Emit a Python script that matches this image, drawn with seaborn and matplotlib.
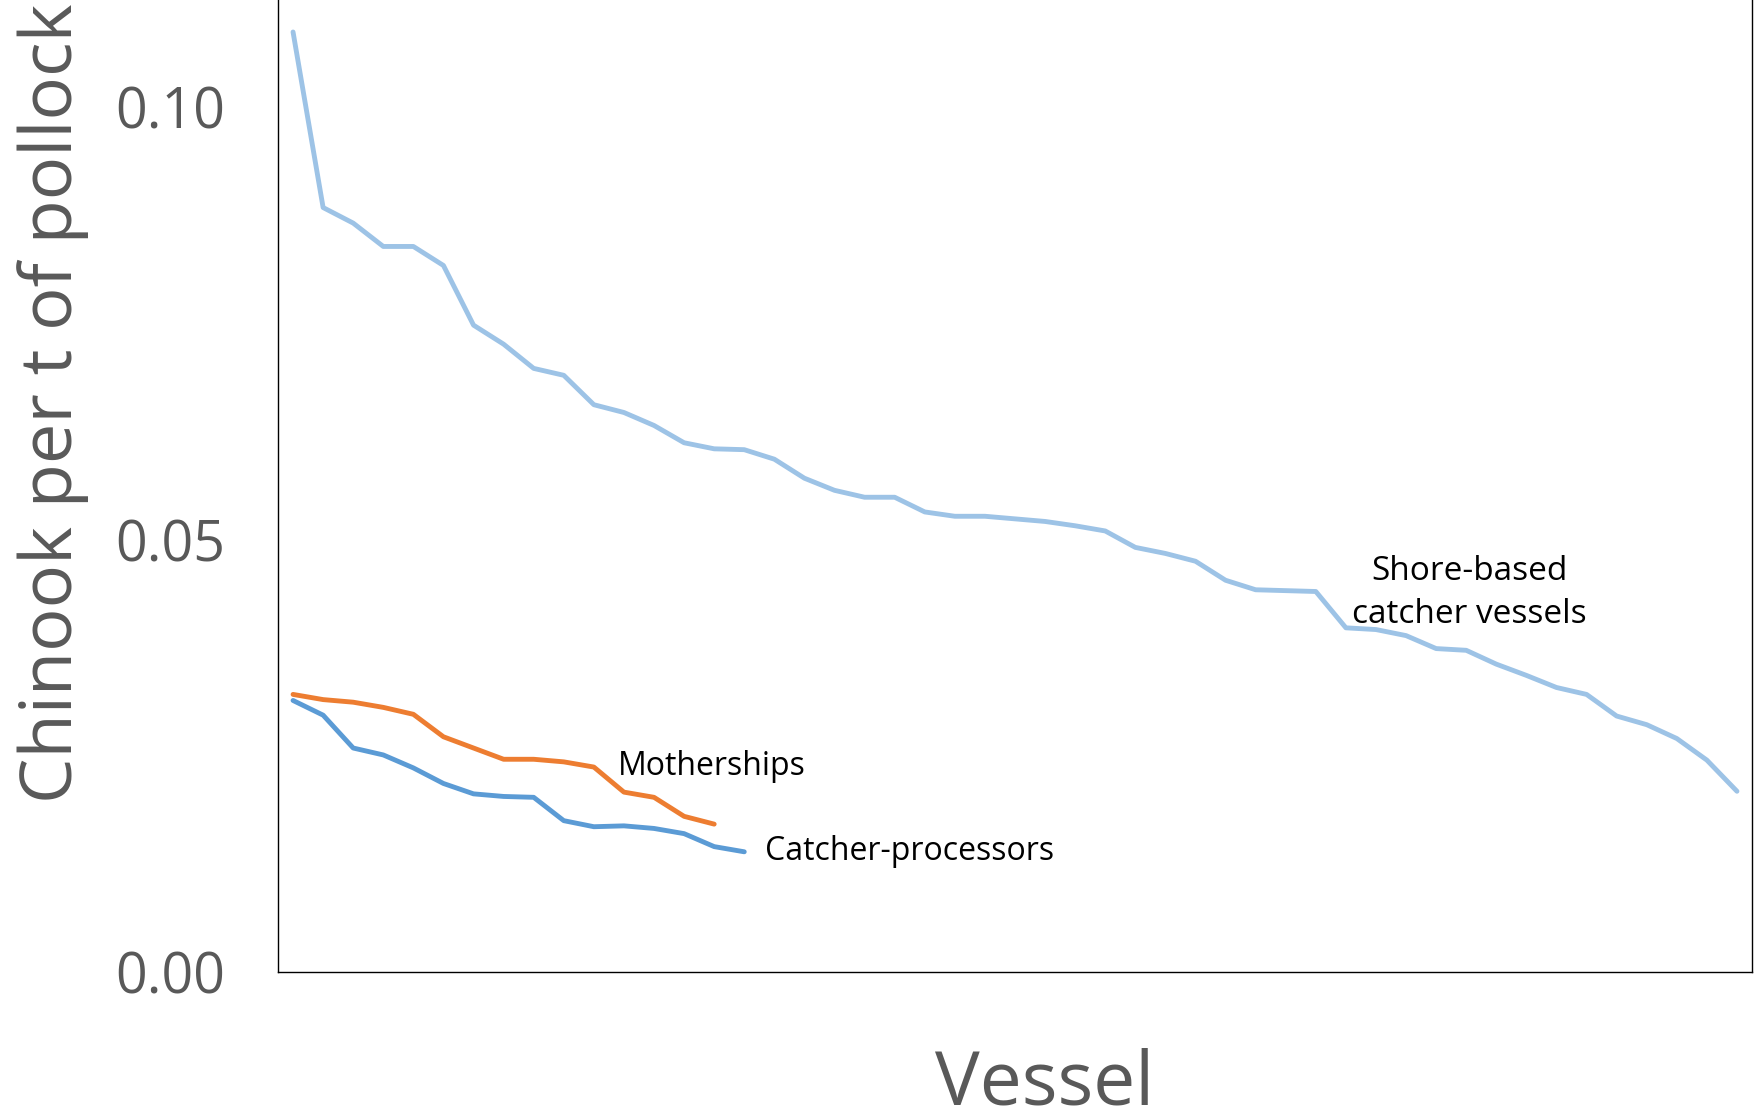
import numpy as np
import pandas as pd
import matplotlib
matplotlib.use("Agg")
import matplotlib.pyplot as plt
import seaborn as sns

# Chinook bycatch rate per vessel, sorted high to low, one list per sector
shore_based = [0.1087, 0.0884, 0.0866, 0.0839, 0.0839, 0.0817, 0.0748, 0.0726,
               0.0698, 0.0690, 0.0656, 0.0647, 0.0632, 0.0612, 0.0605, 0.0604,
               0.0593, 0.0571, 0.0557, 0.0549, 0.0549, 0.0532, 0.0527, 0.0527,
               0.0524, 0.0521, 0.0516, 0.0510, 0.0491, 0.0484, 0.0475, 0.0453,
               0.0442, 0.0441, 0.0440, 0.0398, 0.0396, 0.0389, 0.0374, 0.0372,
               0.0356, 0.0343, 0.0329, 0.0321, 0.0296, 0.0286, 0.0270, 0.0245,
               0.0209]
motherships = [0.0321, 0.0315, 0.0312, 0.0306, 0.0298, 0.0272, 0.0259, 0.0246,
               0.0246, 0.0243, 0.0237, 0.0208, 0.0202, 0.0180, 0.0171]
catcher_processors = [0.0314, 0.0297, 0.0259, 0.0251, 0.0236, 0.0218, 0.0206,
                      0.0203, 0.0202, 0.0175, 0.0168, 0.0169, 0.0166, 0.0160,
                      0.0145, 0.0139]

sectors = ["Shore-based\ncatcher vessels", "Motherships", "Catcher-processors"]
colors = ["#9DC3E6", "#ED7D31", "#5B9BD5"]

rows = []
for name, vals in zip(sectors, [shore_based, motherships, catcher_processors]):
    for i, v in enumerate(vals):
        rows.append({"vessel": i, "rate": v, "sector": name})
df = pd.DataFrame(rows)

sns.set_style("white")
plt.rcParams['font.family'] = ['Open Sans', 'DejaVu Sans']

fig = plt.figure(figsize=(17.63, 11.12), dpi=100)
ax = fig.add_axes([278 / 1763, (1112 - 972) / 1112, (1752 - 278) / 1763, 972 / 1112])

sns.lineplot(data=df, x="vessel", y="rate", hue="sector", palette=colors,
             hue_order=sectors, linewidth=3.5, legend=False, ax=ax)

ax.set_xlim(-0.5, len(shore_based) - 0.5)
ax.set_ylim(0, 0.1124)
ax.set_yticks([0, 0.05, 0.10])
ax.set_yticklabels(["0.00", "0.05", "0.10"])
ax.set_xticks([])
ax.tick_params(axis="y", length=0, pad=38, labelsize=40, labelcolor="#595959")

for side in ["left", "bottom", "right"]:
    ax.spines[side].set_color("black")
    ax.spines[side].set_linewidth(1)
ax.spines["top"].set_visible(False)

ax.set_xlabel("Vessel", fontsize=54, color="#595959")
ax.set_ylabel("Chinook per t of pollock", fontsize=52, color="#595959")
ax.xaxis.set_label_coords(0.52, -0.078)
ax.yaxis.set_label_coords(-0.128, 0.585)

# direct labels instead of a legend
ax.text(39.1, 0.0438, sectors[0], ha="center", va="center", fontsize=24,
        color="black", linespacing=1.4)
ax.text(10.8, 0.0238, sectors[1], ha="left", va="center", fontsize=23, color="black")
ax.text(15.7, 0.0139, sectors[2], ha="left", va="center", fontsize=23, color="black")

fig.savefig("out.png", dpi=100)
